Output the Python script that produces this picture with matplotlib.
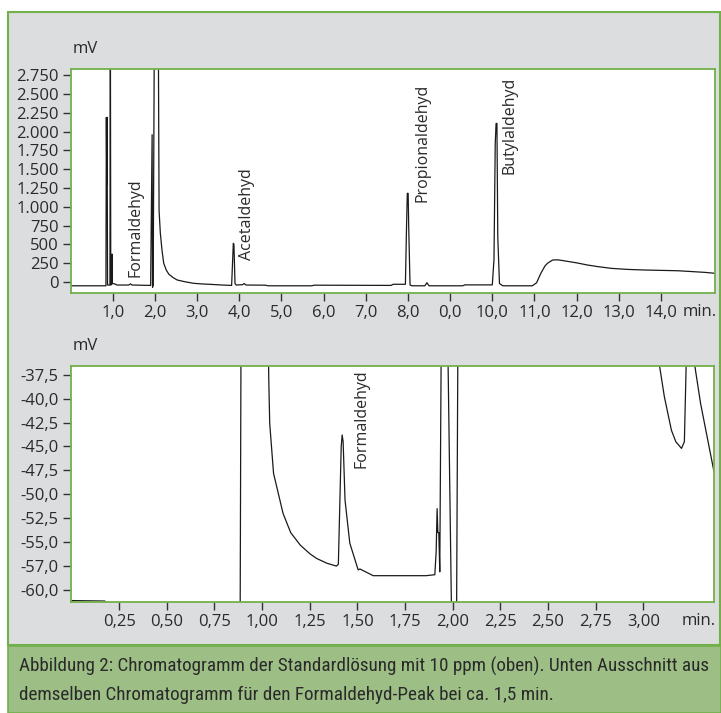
import matplotlib
matplotlib.use("Agg")
import matplotlib.pyplot as plt
from matplotlib.patches import Rectangle
from matplotlib.ticker import FixedLocator, FixedFormatter

# ---------------- data ----------------
top_t = [0.00, 0.84, 0.850, 0.860, 0.868, 0.878, 0.935, 0.945, 0.955, 0.978, 0.985, 0.993,
         1.05, 1.10, 1.38, 1.42, 1.46, 1.90, 1.935, 1.945, 1.96, 1.99, 2.08, 2.10, 2.13, 2.17,
         2.21, 2.27, 2.33, 2.43, 2.53, 2.70, 2.92, 3.10, 3.32, 3.60, 3.82, 3.845, 3.86, 3.875,
         3.90, 3.93, 4.08, 4.12, 4.16, 4.62, 4.68, 5.72, 5.78, 7.60, 7.65, 7.94, 7.965, 7.985,
         8.005, 8.02, 8.05, 8.10, 8.40, 8.45, 8.50, 9.30, 9.35, 10.00, 10.04, 10.07, 10.09,
         10.11, 10.13, 10.17, 10.25, 10.95, 11.05, 11.15, 11.25, 11.31, 11.43, 11.55, 11.63,
         12.00, 12.26, 12.50, 12.82, 13.20, 13.60, 14.00, 14.40, 14.79, 15.05, 15.30]
top_mv = [-50, -50, 2190, 1300, 2190, -40, -40, 3600, -40, -30, 372, -20,
          -25, -40, -40, -25, -40, -45, 1960, -70, -40, 3600, 3600, 950, 650, 420,
          250, 160, 105, 60, 27, 5, -17, -25, -31, -40, -45, 300, 515, 500,
          -20, -40, -35, -20, -40, -42, -50, -50, -42, -45, -30, -30, 690, 1180,
          1180, 690, -40, -50, -50, -10, -50, -50, -38, -38, 300, 1845, 2110,
          2110, 600, -20, -50, -50, -10, 115, 215, 250, 293, 295, 289,
          255, 226, 205, 182, 168, 160, 155, 150, 137, 128, 115]

bot_t = [0.00, 0.175, 0.18, 0.87, 0.885, 0.89, 1.03, 1.035, 1.04, 1.06, 1.11, 1.15, 1.20,
         1.25, 1.286, 1.34, 1.39, 1.40, 1.415, 1.42, 1.425, 1.435, 1.46, 1.504, 1.513,
         1.583, 1.69, 1.86, 1.906, 1.913, 1.918, 1.922, 1.927, 1.932, 1.941, 1.97, 1.976,
         1.994, 2.02, 2.028, 3.08, 3.085, 3.11, 3.147, 3.17, 3.20, 3.215, 3.232, 3.255,
         3.27, 3.30, 3.37]
bot_mv = [-61.1, -61.15, -62.5, -63, -62, -30, -30, -38, -42.6, -47.8, -52.0, -54.0, -55.3,
          -56.2, -56.7, -57.2, -57.5, -57.3, -45, -43.8, -44.5, -50.6, -55.1, -57.9, -57.8,
          -58.5, -58.5, -58.5, -58.4, -56, -51.5, -54, -54.0, -58.1, -30, -30, -37,
          -63, -63, -30, -30, -36.6, -39.8, -43.3, -44.5, -45.2, -44.5, -30, -30,
          -36.6, -40.5, -47.6]

top_xticks = [1, 2, 3, 4, 5, 6, 7, 8, 9, 10, 11, 12, 13, 14]
top_xlabels = ["1,0", "2,0", "3,0", "4,0", "5,0", "6,0", "7,0", "8,0", "0,0",
               "10,0", "11,0", "12,0", "13,0", "14,0"]
top_yticks = [0, 250, 500, 750, 1000, 1250, 1500, 1750, 2000, 2250, 2500, 2750]
top_ylabels = ["0", "250", "500", "750", "1.000", "1.250", "1.500", "1.750",
               "2.000", "2.250", "2.500", "2.750"]

bot_xticks = [0.25, 0.50, 0.75, 1.00, 1.25, 1.50, 1.75, 2.00, 2.25, 2.50, 2.75, 3.00]
bot_xlabels = ["0,25", "0,50", "0,75", "1,00", "1,25", "1,50", "1,75", "2,00",
               "2,25", "2,50", "2,75", "3,00"]
bot_yticks = [-37.5, -40.0, -42.5, -45.0, -47.5, -50.0, -52.5, -55.0, -57.5, -60.0]
bot_ylabels = ["-37,5", "-40,0", "-42,5", "-45,0", "-47,5", "-50,0", "-52,5",
               "-55,0", "-57,0", "-60,0"]

top_peaks = ["Formaldehyd", "Acetaldehyd", "Propionaldehyd", "Butylaldehyd"]
top_peak_t = [1.55, 4.19, 8.35, 10.40]
top_peak_y = [66, 293, 1068, 1436]
bot_peaks = ["Formaldehyd"]
bot_peak_t = [1.524]
bot_peak_y = [-47.25]

caption = ["Abbildung 2: Chromatogramm der Standardlösung mit 10 ppm (oben). Unten Ausschnitt aus",
           "demselben Chromatogramm für den Formaldehyd-Peak bei ca. 1,5 min."]

# ---------------- style ----------------
W, H = 721, 713
GRAY = "#dcdddf"
GREEN_LINE = "#72b04c"
GREEN_BAND = "#9dbf86"
TXT = "#2a2a2a"
TICKFONT = ["Open Sans", "DejaVu Sans"]
CAPFONT = ["Roboto Condensed", "Roboto", "DejaVu Sans"]
plt.rcParams["font.family"] = TICKFONT

fig = plt.figure(figsize=(W / 100, H / 100), dpi=100)
fig.patch.set_facecolor("white")


def fx(px):
    return px / W


def fy(py):
    return 1 - py / H


# background panel
fig.add_artist(Rectangle((fx(8), fy(645)), fx(720) - fx(8), fy(12) - fy(645),
                         transform=fig.transFigure, facecolor=GRAY,
                         edgecolor=GREEN_LINE, linewidth=1.5, zorder=0))
fig.add_artist(Rectangle((fx(7.5), 0), 1 - fx(7.5), fy(645.5),
                         transform=fig.transFigure, facecolor=GREEN_BAND,
                         edgecolor=GREEN_LINE, linewidth=1.2, zorder=0))


def style_axes(ax):
    ax.set_facecolor("white")
    for s in ax.spines.values():
        s.set_color(GREEN_LINE)
        s.set_linewidth(1.3)
    ax.tick_params(direction="out", length=6, width=1.0, color="#333333",
                   labelsize=12, labelcolor=TXT, pad=2.5)


# top axes
ax1 = fig.add_axes([fx(70.5), fy(293.3), fx(715) - fx(70.5), fy(68.7) - fy(293.3)])
ax1.plot(top_t, top_mv, color="#1a1a1a", linewidth=0.9)
ax1.set_xlim(0, 15.28)
ax1.set_ylim(-150, 2838)
ax1.xaxis.set_major_locator(FixedLocator(top_xticks))
ax1.xaxis.set_major_formatter(FixedFormatter(top_xlabels))
ax1.yaxis.set_major_locator(FixedLocator(top_yticks))
ax1.yaxis.set_major_formatter(FixedFormatter(top_ylabels))
style_axes(ax1)
for name, t, y in zip(top_peaks, top_peak_t, top_peak_y):
    ax1.text(t, y, name, rotation=90, ha="center", va="bottom", fontsize=11.5,
             color=TXT)
ax1.text(0.004, 1.05, "mV", transform=ax1.transAxes, ha="left", va="bottom",
         fontsize=12, color=TXT)
ax1.text(1.003, -0.085, "min.", transform=ax1.transAxes, ha="right", va="center",
         fontsize=12, color=TXT)

# bottom axes
ax2 = fig.add_axes([fx(70.5), fy(602), fx(714.3) - fx(70.5), fy(365.7) - fy(602)])
ax2.plot(bot_t, bot_mv, color="#1a1a1a", linewidth=0.9)
ax2.set_xlim(-0.005, 3.372)
ax2.set_ylim(-61.25, -36.56)
ax2.xaxis.set_major_locator(FixedLocator(bot_xticks))
ax2.xaxis.set_major_formatter(FixedFormatter(bot_xlabels))
ax2.yaxis.set_major_locator(FixedLocator(bot_yticks))
ax2.yaxis.set_major_formatter(FixedFormatter(bot_ylabels))
style_axes(ax2)
for name, t, y in zip(bot_peaks, bot_peak_t, bot_peak_y):
    ax2.text(t, y, name, rotation=90, ha="center", va="bottom", fontsize=11.5,
             color=TXT)
ax2.text(0.004, 1.05, "mV", transform=ax2.transAxes, ha="left", va="bottom",
         fontsize=12, color=TXT)
ax2.text(1.003, -0.08, "min.", transform=ax2.transAxes, ha="right", va="center",
         fontsize=12, color=TXT)

# caption
fig.text(fx(19), fy(672), caption[0], ha="left", va="baseline", fontsize=13.8,
         family=CAPFONT, color=TXT)
fig.text(fx(19), fy(700), caption[1], ha="left", va="baseline", fontsize=13.8,
         family=CAPFONT, color=TXT)

fig.savefig("out.png", dpi=100)
